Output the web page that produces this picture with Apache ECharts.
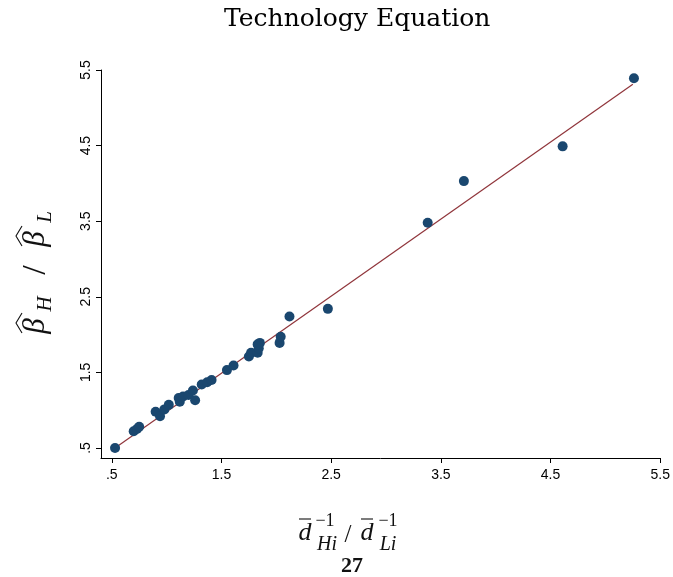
<!DOCTYPE html>
<html>
<head>
<meta charset="utf-8">
<script src="https://cdn.jsdelivr.net/npm/echarts@6/dist/echarts.min.js"></script>
<style>
html, body { margin: 0; background: #fff; }
#chart { width: 673px; height: 577px; }
</style>
</head>
<body>
<div id="chart"></div>
<script>
// dbar ratio (x) vs beta-hat ratio (y)
var ratioX = [0.53, 0.70, 0.73, 0.75, 0.90, 0.94, 0.98, 1.02, 1.11, 1.12, 1.15, 1.20, 1.24, 1.26,
  1.32, 1.37, 1.41, 1.55, 1.61, 1.75, 1.77, 1.83, 1.84, 1.85, 1.83, 2.03, 2.04, 2.12,
  2.47, 3.38, 3.71, 4.61, 5.26];
var ratioY = [0.50, 0.72, 0.75, 0.78, 0.98, 0.92, 1.01, 1.07, 1.16, 1.11, 1.18, 1.20, 1.26, 1.13,
  1.34, 1.37, 1.40, 1.53, 1.59, 1.71, 1.76, 1.76, 1.82, 1.89, 1.87, 1.89, 1.97, 2.24,
  2.34, 3.48, 4.03, 4.49, 5.39];
// fitted line end points
var fitX = [0.52, 5.25];
var fitY = [0.49, 5.31];
var tickValues = [0.5, 1.5, 2.5, 3.5, 4.5, 5.5];
var tickLabels = ['.5', '1.5', '2.5', '3.5', '4.5', '5.5'];

var points = ratioX.map(function (x, i) { return [x, ratioY[i]]; });
var fitLine = fitX.map(function (x, i) { return [x, fitY[i]]; });

function tickText(v) {
  var i = tickValues.indexOf(Math.round(v * 10) / 10);
  return i >= 0 ? tickLabels[i] : '';
}

var mathFont = '"Liberation Serif", "DejaVu Serif", serif';

function mtext(str, x, y, size, italic, extra) {
  return {
    type: 'text', x: x, y: y,
    style: Object.assign({
      text: str, textAlign: 'center', textVerticalAlign: 'middle',
      fontSize: size, fontStyle: italic ? 'italic' : 'normal', fontFamily: mathFont, fill: '#111'
    }, extra || {})
  };
}
function bar(x1, x2, y) {
  return { type: 'line', shape: { x1: x1, y1: y, x2: x2, y2: y }, style: { stroke: '#111', lineWidth: 1.1 } };
}
function hat(cx, cy, w) {
  return { type: 'polyline', shape: { points: [[cx - w, cy + 3], [cx, cy - 3], [cx + w, cy + 3]] }, style: { stroke: '#111', lineWidth: 1.1, fill: null } };
}

var myChart = echarts.init(document.getElementById('chart'));
var option = {
  backgroundColor: '#fff',
  animation: false,
  title: {
    text: 'Technology Equation',
    left: 219,
    top: 2,
    textStyle: { fontFamily: '"DejaVu Serif", serif', fontWeight: 'normal', fontSize: 25, color: '#000' }
  },
  grid: { left: 101, right: 12, top: 70, bottom: 119 },
  xAxis: {
    type: 'value',
    min: 0.402,
    max: 5.5,
    splitLine: { show: false },
    axisLine: { lineStyle: { color: '#000', width: 1 } },
    axisTick: { show: true, length: 5, customValues: tickValues, lineStyle: { color: '#000' } },
    axisLabel: {
      customValues: tickValues, formatter: tickText, margin: 10,
      fontFamily: '"Liberation Sans", Arial, sans-serif', fontSize: 14, color: '#000'
    }
  },
  yAxis: {
    type: 'value',
    min: 0.367,
    max: 5.5,
    splitLine: { show: false },
    axisLine: { show: true, lineStyle: { color: '#000', width: 1 } },
    axisTick: { show: true, length: 5, customValues: tickValues, lineStyle: { color: '#000' } },
    axisLabel: {
      customValues: tickValues, formatter: tickText, rotate: 90, margin: 8,
      fontFamily: '"Liberation Sans", Arial, sans-serif', fontSize: 14, color: '#000'
    }
  },
  series: [
    {
      type: 'scatter',
      data: points,
      symbolSize: 10,
      itemStyle: { color: '#1a476f', opacity: 1 },
      z: 3
    },
    {
      type: 'line',
      data: fitLine,
      symbol: 'none',
      lineStyle: { color: '#90353b', width: 1.2 },
      z: 2
    }
  ],
  graphic: [
    {
      // y-axis title, rotated so it reads bottom to top
      type: 'group', x: 36, y: 270, rotation: Math.PI / 2,
      children: [
        mtext('β', -56, 0, 31, true),
        hat(-53, -17, 10),
        mtext('H', -34, 9, 21, true),
        mtext('/', 0, 0, 34, false),
        mtext('β', 31, 0, 31, true),
        hat(34, -17, 10),
        mtext('L', 53, 9, 21, true)
      ]
    },
    mtext('d', 305, 533, 26, true),
    bar(299, 311, 519),
    mtext('\u22121', 325, 521, 18, false),
    mtext('Hi', 327, 545, 20, true),
    mtext('/', 348, 535, 25, false),
    mtext('d', 367, 533, 26, true),
    bar(361, 373, 519),
    mtext('\u22121', 388, 521, 18, false),
    mtext('Li', 388, 545, 20, true),
    mtext('27', 352, 566, 22, false, { fontWeight: 'bold' })
  ]
};
myChart.setOption(option);
</script>
</body>
</html>
